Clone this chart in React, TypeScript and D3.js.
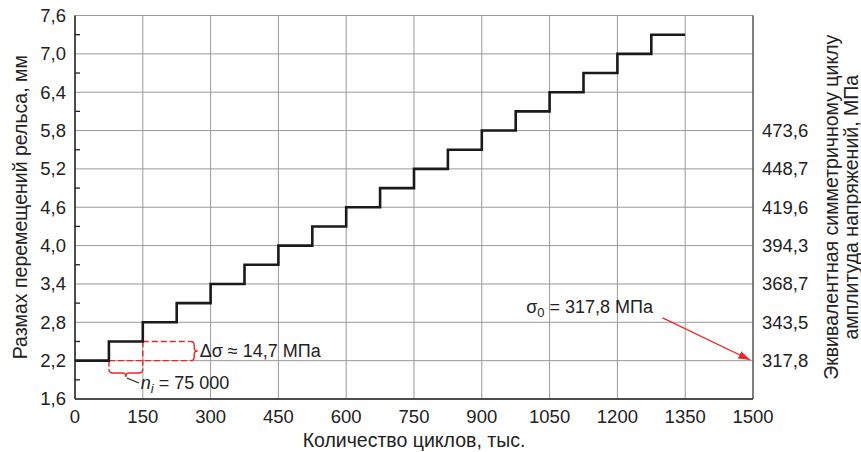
import React from "react";
import * as d3 from "d3";

const cyclesStart = [0, 75, 150, 225, 300, 375, 450, 525, 600, 675, 750, 825, 900, 975, 1050, 1125, 1200, 1275];
const cyclesEnd = 1350;
const displacement = [2.2, 2.5, 2.8, 3.1, 3.4, 3.7, 4.0, 4.3, 4.6, 4.9, 5.2, 5.5, 5.8, 6.1, 6.4, 6.7, 7.0, 7.3];
const xTicks = [0, 150, 300, 450, 600, 750, 900, 1050, 1200, 1350, 1500];
const yTicks = [1.6, 2.2, 2.8, 3.4, 4.0, 4.6, 5.2, 5.8, 6.4, 7.0, 7.6];
const yMinorTicks = [1.9, 2.5, 3.1, 3.7, 4.3, 4.9, 5.5, 6.1, 6.7, 7.3];
const rightLevels = [2.2, 2.8, 3.4, 4.0, 4.6, 5.2, 5.8];
const rightLabels = ["317,8", "343,5", "368,7", "394,3", "419,6", "448,7", "473,6"];

const W = 861, H = 452;
const FONT = "'Liberation Sans', Arial, Helvetica, sans-serif";
const RED = "#e8262b";
const TICK_FS = 18.5;
const ANN_FS = 18;
const TITLE_FS = 19.5;

export default function App() {
  const x = d3.scaleLinear().domain([0, 1500]).range([75, 753]);
  const y = d3.scaleLinear().domain([1.6, 7.6]).range([399, 15.5]);

  const pts: [number, number][] = cyclesStart.map((c, i) => [c, displacement[i]]);
  pts.push([cyclesEnd, displacement[displacement.length - 1]]);
  const line = d3.line<[number, number]>().x(d => x(d[0])).y(d => y(d[1])).curve(d3.curveStepAfter);

  const x0 = x(0), x1 = x(1500), yT = y(7.6), yB = y(1.6);

  const xa = x(75), xb = x(150), xBr = x(256);
  const yLo = y(2.2), yHi = y(2.5);
  const yBr = 369;
  const mid = (xa + xb) / 2;
  const ymid = (yLo + yHi) / 2;

  const braceV = `M${xBr},${yHi} Q${xBr + 3.5},${yHi} ${xBr + 3.5},${yHi + 4} L${xBr + 3.5},${ymid - 3} Q${xBr + 3.5},${ymid} ${xBr + 7},${ymid} Q${xBr + 3.5},${ymid} ${xBr + 3.5},${ymid + 3} L${xBr + 3.5},${yLo - 4} Q${xBr + 3.5},${yLo} ${xBr},${yLo}`;
  const braceH = `M${xa},${yBr} Q${xa},${yBr + 4} ${xa + 4},${yBr + 4} L${mid - 3},${yBr + 4} Q${mid},${yBr + 4} ${mid},${yBr + 8} Q${mid},${yBr + 4} ${mid + 3},${yBr + 4} L${xb - 4},${yBr + 4} Q${xb},${yBr + 4} ${xb},${yBr}`;

  return (
    <svg width={W} height={H} style={{ position: "absolute", left: 0, top: 0, background: "#fff" }} fontFamily={FONT}>
      <defs>
        <marker id="arr" viewBox="0 0 12 8" refX="12" refY="4" markerWidth="12" markerHeight="8" markerUnits="userSpaceOnUse" orient="auto">
          <path d="M0,0 L12,4 L0,8 Z" fill={RED} />
        </marker>
      </defs>
      {yTicks.map(t => (
        <line key={"gy" + t} x1={x0} x2={x1} y1={y(t)} y2={y(t)} stroke="#9a9a9a" strokeWidth={1} />
      ))}
      {xTicks.map(t => (
        <line key={"gx" + t} x1={x(t)} x2={x(t)} y1={yT} y2={yB} stroke="#9a9a9a" strokeWidth={1} />
      ))}
      <line x1={x1} x2={x1} y1={yT} y2={yB} stroke="#555" strokeWidth={1.3} />
      <line x1={x0} x2={x0} y1={yT} y2={yB} stroke="#222" strokeWidth={1.5} />
      <line x1={x0} x2={x1} y1={yB} y2={yB} stroke="#222" strokeWidth={1.5} />
      {yMinorTicks.map(t => (
        <line key={"mt" + t} x1={x0} x2={x0 + 5} y1={y(t)} y2={y(t)} stroke="#222" strokeWidth={1.3} />
      ))}
      {yTicks.map(t => (
        <text key={"ly" + t} x={x0 - 9} y={y(t)} dy="0.35em" textAnchor="end" fontSize={TICK_FS} fill="#222">
          {d3.format(".1f")(t).replace(".", ",")}
        </text>
      ))}
      {xTicks.map(t => (
        <text key={"lx" + t} x={x(t)} y={yB + 18} dy="0.35em" textAnchor="middle" fontSize={TICK_FS} fill="#222">
          {t}
        </text>
      ))}
      {rightLevels.map((t, i) => (
        <text key={"lr" + t} x={x1 + 9} y={y(t)} dy="0.35em" textAnchor="start" fontSize={TICK_FS} fill="#222">
          {rightLabels[i]}
        </text>
      ))}
      <text x={(x0 + x1) / 2} y={440} dy="0.35em" textAnchor="middle" fontSize={TITLE_FS} fill="#222">
        Количество циклов, тыс.
      </text>
      <text transform={`translate(20,${(yT + yB) / 2}) rotate(-90)`} dy="0.35em" textAnchor="middle" fontSize={TITLE_FS} fill="#222">
        Размах перемещений рельса, мм
      </text>
      <text transform={`translate(831,${(yT + yB) / 2}) rotate(-90)`} dy="0.35em" textAnchor="middle" fontSize={TITLE_FS} fill="#222">
        Эквивалентная симметричному циклу
      </text>
      <text transform={`translate(851,${(yT + yB) / 2}) rotate(-90)`} dy="0.35em" textAnchor="middle" fontSize={TITLE_FS} fill="#222">
        амплитуда напряжений, МПа
      </text>
      <g stroke={RED} strokeWidth={1.4} fill="none">
        <line x1={xb} x2={xBr} y1={yHi} y2={yHi} strokeDasharray="6,3" />
        <line x1={xa} x2={xBr} y1={yLo} y2={yLo} strokeDasharray="6,3" />
        <line x1={xa} x2={xa} y1={yLo} y2={yBr} strokeDasharray="6,3" />
        <line x1={xb} x2={xb} y1={yHi} y2={yBr} strokeDasharray="6,3" />
        <path d={braceV} />
        <path d={braceH} />
      </g>
      <path d={line(pts) || ""} fill="none" stroke="#1a1a1a" strokeWidth={2.6} strokeLinejoin="miter" />
      <text x={xBr + 9} y={ymid} dy="0.35em" fontSize={ANN_FS} fill="#222">Δσ ≈ 14,7 МПа</text>
      <line x1={mid + 1} y1={yBr + 9} x2={mid + 13} y2={yBr + 14} stroke="#222" strokeWidth={1.2} />
      <text x={mid + 15} y={yBr + 14} dy="0.35em" fontSize={ANN_FS} fill="#222">
        <tspan fontStyle="italic">n</tspan>
        <tspan fontStyle="italic" fontSize={13} dy="4">i</tspan>
        <tspan dy="-4"> = 75 000</tspan>
      </text>
      <text x={653} y={307} dy="0.35em" textAnchor="end" fontSize={ANN_FS} fill="#222">
        <tspan>σ</tspan>
        <tspan fontSize={13} dy="4">0</tspan>
        <tspan dy="-4"> = 317,8 МПа</tspan>
      </text>
      <line x1={x(1300)} y1={y(2.87)} x2={x(1494)} y2={y(2.21)} stroke={RED} strokeWidth={1.3} markerEnd="url(#arr)" />
    </svg>
  );
}
